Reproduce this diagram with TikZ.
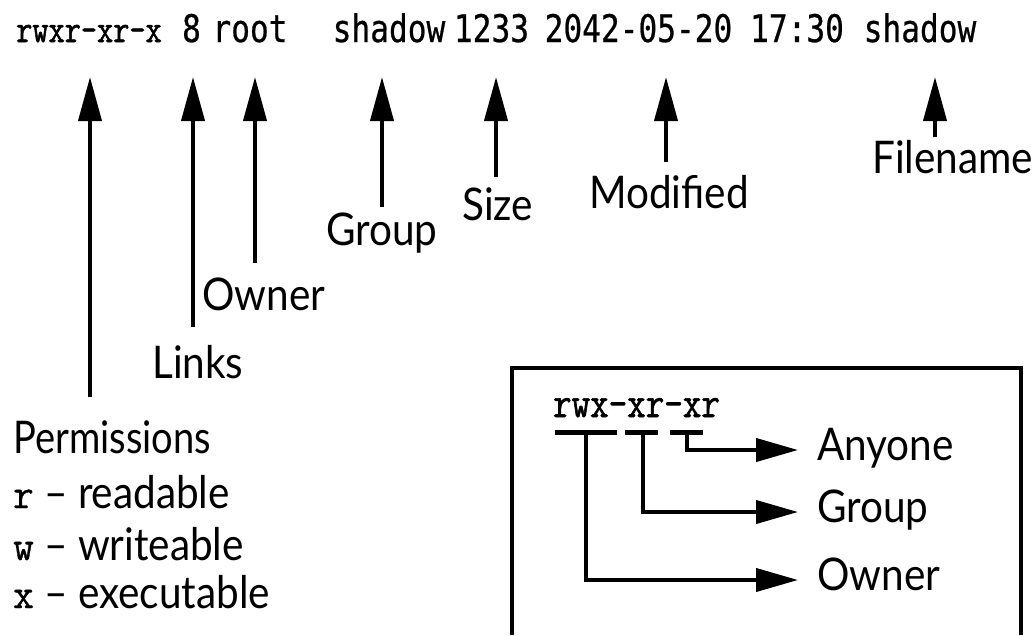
\documentclass[tikz,border=0pt]{standalone}
\usepackage{fontspec}
\usepackage{graphicx}
\setmainfont{Lato}[FakeStretch=0.9]
\newfontfamily\codefont{DejaVu Sans Mono}[FakeStretch=0.82,FakeBold=0.6]
\newfontfamily\slabfont{Latin Modern Mono}[FakeBold=1.6]
\newfontfamily\slablight{Latin Modern Mono}[FakeBold=0.8]
\usetikzlibrary{arrows.meta}
\tikzset{
  lbl/.style={inner sep=0pt, anchor=base west, font=\fontsize{45}{50}\selectfont},
  word/.style={inner sep=0pt, anchor=base, font=\codefont\fontsize{38}{40}\selectfont},
  arr/.style={line width=4pt, -{Triangle[length=44pt,width=23pt]}},
  barr/.style={line width=4pt, -{Triangle[length=42pt,width=23pt]}},
  bar/.style={line width=5pt},
  frame/.style={line width=4pt},
}
\newcommand{\slabtxt}[3]{{\slabfont\fontsize{#1}{#1}\selectfont\scalebox{1}[#2]{#3}}}
\newcommand{\legletter}[1]{{\slablight\fontsize{40}{40}\selectfont\scalebox{1}[1.05]{#1}}}
\begin{document}
\begin{tikzpicture}[x=1pt,y=-1pt]
\useasboundingbox (0,0) rectangle (1033,635);

% top line
\node[word] (wperm) at (89,42) {\slabtxt{31.4}{1.25}{rwxr-xr-x}};
\node[word] (wlinks) at (191.5,42) {8};
\node[word] (wown) at (250,42) {root};
\node[word] (wgrp) at (389,42) {shadow};
\node[word] (wsize) at (491.5,42) {1233};
\node[word] (wdate) at (638.5,42) {2042-05-20};
\node[word] (wtime) at (797,42) {17:30};
\node[word] (wname) at (920,42) {shadow};

% labels
\node[lbl] (lperm) at (13,453) {\scalebox{0.94}[1]{Permissions}};
\node[lbl] (lr) at (13,508) {\legletter{r} -- readable};
\node[lbl] (lw) at (13,560) {\legletter{w} -- writeable};
\node[lbl] (lx) at (13,608) {\legletter{x} -- executable};
\node[lbl] (llinks) at (152,378) {Links};
\node[lbl] (lown) at (202,310) {Owner};
\node[lbl] (lgrp) at (326,245) {Group};
\node[lbl] (lsize) at (462,220) {Size};
\node[lbl] (lmod) at (589,208) {Modified};
\node[lbl] (lname) at (872,173) {Filename};

% arrow ends
\coordinate (bperm) at (90,397);  \coordinate (tperm) at (90,77);
\coordinate (blinks) at (193,327); \coordinate (tlinks) at (193,77);
\coordinate (bown) at (255,263);  \coordinate (town) at (255,77);
\coordinate (bgrp) at (382,207);  \coordinate (tgrp) at (382,77);
\coordinate (bsize) at (496,177); \coordinate (tsize) at (496,77);
\coordinate (bmod) at (666,162);  \coordinate (tmod) at (666,77);
\coordinate (bname) at (935,137); \coordinate (tname) at (935,77);
\draw[arr] (bperm) -- (tperm);
\draw[arr] (blinks) -- (tlinks);
\draw[arr] (bown) -- (town);
\draw[arr] (bgrp) -- (tgrp);
\draw[arr] (bsize) -- (tsize);
\draw[arr] (bmod) -- (tmod);
\draw[arr] (bname) -- (tname);

% legend box
\draw[frame] (512,635) -- (512,368) -- (1021,368) -- (1021,635);
\node[inner sep=0pt, anchor=base] (code) at (636.5,417) {\slabtxt{36}{1.2}{rwx-xr-xr}};
\coordinate (u1a) at (555,432); \coordinate (u1b) at (617,432);
\coordinate (u2a) at (625,432); \coordinate (u2b) at (658,432);
\coordinate (u3a) at (670,432); \coordinate (u3b) at (703,432);
\draw[bar] (u1a) -- (u1b);
\draw[bar] (u2a) -- (u2b);
\draw[bar] (u3a) -- (u3b);
\coordinate (d1) at (586,432); \coordinate (d2) at (643,432); \coordinate (d3) at (687,432);
\coordinate (e3) at (798,450); \coordinate (e2) at (798,512); \coordinate (e1) at (798,580);
\draw[barr] (d3) |- (e3);
\draw[barr] (d2) |- (e2);
\draw[barr] (d1) |- (e1);
\node[lbl] (lany) at (817,460) {Anyone};
\node[lbl] (lbgrp) at (817,522) {Group};
\node[lbl] (lbown) at (817,590) {Owner};
\end{tikzpicture}
\end{document}
